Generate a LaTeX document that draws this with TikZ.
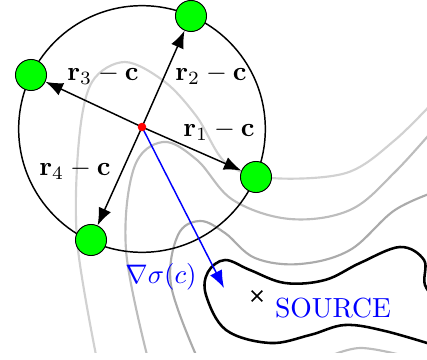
\documentclass[tikz,border=0pt]{standalone}
\usepackage{amsmath}
\usepackage{amssymb}
\usepackage{xcolor}
\usetikzlibrary{arrows.meta, shapes.misc}

\begin{document}
\begin{tikzpicture}[
          x=0.373pt, y=-0.373pt,
          level/.style={line width=0.8pt},
          sensor/.style={
              circle,
              draw=black,
              fill=green,
              line width=0.35pt,
              inner sep=0pt,
              minimum size=11.6pt
            },
          reach/.style={
              circle,
              draw=black,
              line width=0.55pt,
              inner sep=0pt,
              minimum size=92pt
            },
          arr/.style={-{Latex[length=6.5pt,width=5pt]}, black, line width=0.55pt},
          grad/.style={-{Latex[length=6.5pt,width=5pt]}, blue, line width=0.55pt},
          lab/.style={inner sep=0pt, font=\fontsize{10.3}{12}\selectfont}
        ]
        \useasboundingbox (0,0) rectangle (427,360);

        % contours
        \begin{scope}
          \clip (0,0) rectangle (427,353);
          \draw[level, black!18] plot[smooth, tension=0.55] coordinates {(96,355) (77,240) (79,140) (92,82) (125,62) (165,82) (197,117) (226,163) (271,178) (346,173) (395,140) (440,95)};
          \draw[level, black!26] plot[smooth, tension=0.6] coordinates {(147,355) (126,250) (134,168) (163,142) (197,160) (233,200) (290,219) (350,210) (395,172) (440,122)};
          \draw[level, black!33] plot[smooth, tension=0.6] coordinates {(196,355) (171,285) (178,235) (200,221) (225,233) (255,258) (300,264) (350,250) (395,210) (440,190)};
          \draw[level, black!26] plot[smooth, tension=0.6] coordinates {(325,358) (360,348) (405,356)};
          \draw[line width=0.95pt, black] plot[smooth, tension=0.6] coordinates {(440,305) (425,285) (424,260) (400,247) (360,263) (325,280) (285,283) (250,270) (225,260) (208,272) (206,295) (226,330) (270,343) (310,335) (345,325) (385,331) (440,347)};
        \end{scope}

        \node[reach] (ring) at (142,129) {};
        \coordinate (center) at (142,127);

        \node[sensor] (r1) at (256,177) {};
        \node[sensor] (r2) at (191,16) {};
        \node[sensor] (r3) at (31,75) {};
        \node[sensor] (r4) at (91,240) {};
        \coordinate (gradtip) at (224,288);

        \draw[arr] (center) -- (r1);
        \draw[arr] (center) -- (r2);
        \draw[arr] (center) -- (r3);
        \draw[arr] (center) -- (r4);
        \draw[grad] (center) -- (gradtip);
        \fill[red] (center) circle (1.6pt);

        \node[lab] (lab1) at (219,131) {$\mathbf{r}_1-\mathbf{c}$};
        \node[lab] (lab2) at (211,75) {$\mathbf{r}_2-\mathbf{c}$};
        \node[lab] (lab3) at (103,75) {$\mathbf{r}_3-\mathbf{c}$};
        \node[lab] (lab4) at (75,170) {$\mathbf{r}_4-\mathbf{c}$};
        \node[lab, text=blue] (gradlab) at (161,277) {$\nabla\sigma(c)$};
        \node[cross out, draw=black, line width=0.55pt, inner sep=0pt, minimum size=3.4pt] (mark) at (257,296) {};
        \node[lab, text=blue] (source) at (333,308) {SOURCE};
      \end{tikzpicture}
\end{document}
